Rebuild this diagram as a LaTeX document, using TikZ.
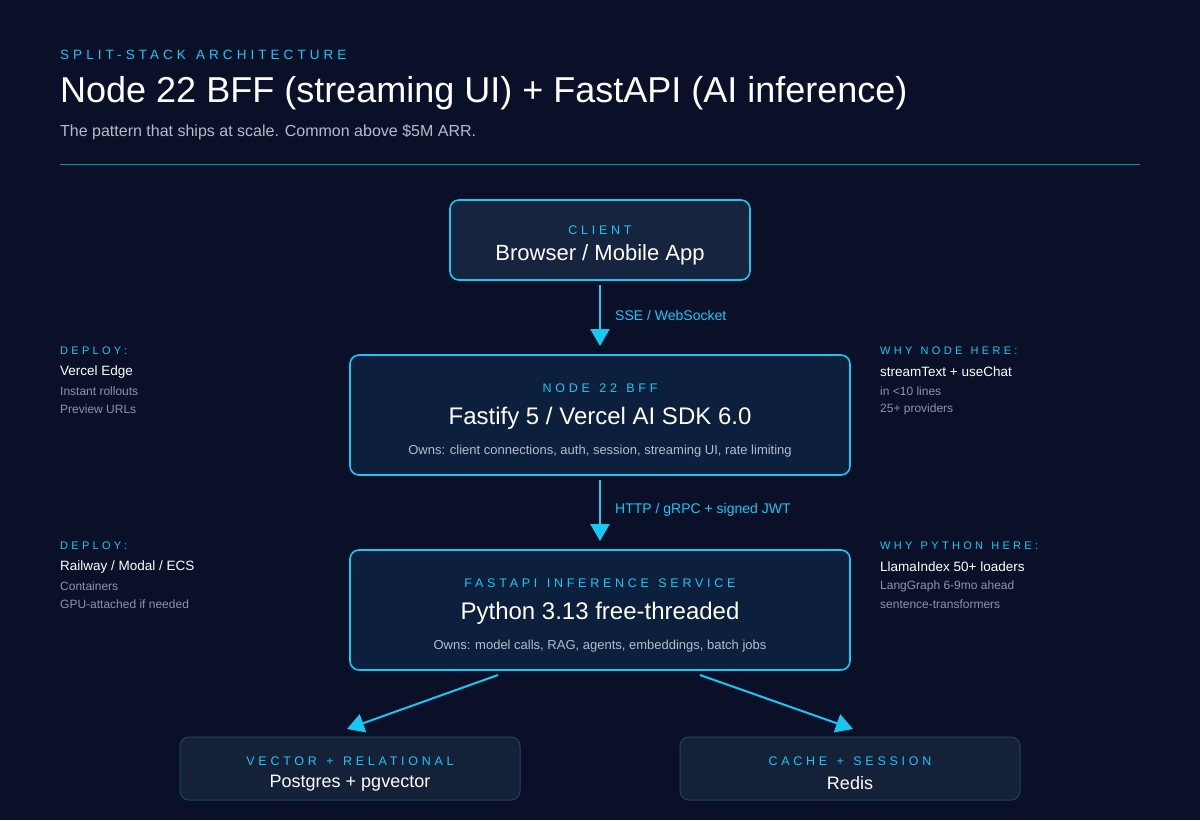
\documentclass[tikz,border=0pt]{standalone}
\usepackage{fontspec}
\setmainfont{Liberation Sans}
\newfontfamily\spacedfont[LetterSpace=30,WordSpace=1.3]{Liberation Sans}
\usetikzlibrary{positioning,arrows.meta}
\definecolor{bgnavy}{HTML}{0B1029}
\definecolor{accentcyan}{HTML}{16C8F2}
\definecolor{boxfill}{HTML}{0C1F3C}
\definecolor{clientfill}{HTML}{16243F}
\definecolor{storefill}{HTML}{152039}
\definecolor{storeline}{HTML}{1D4563}
\definecolor{subgray}{HTML}{B4BCCB}
\definecolor{dimgray}{HTML}{8C95A8}
\definecolor{rulecyan}{HTML}{1589B0}

\begin{document}
\begin{tikzpicture}[
        x=1pt, y=-1pt,
        tier/.style={rectangle, draw=accentcyan, line width=1.6pt, fill=boxfill, rounded corners=9pt},
        store/.style={rectangle, draw=storeline, line width=1pt, fill=storefill, rounded corners=9pt},
        tag/.style={text=accentcyan, font=\spacedfont\fontsize{12.5}{14}\selectfont},
        main/.style={text=white, font=\fontsize{24}{28}\selectfont},
        owns/.style={text=subgray, font=\fontsize{13}{15}\selectfont},
        sidetag/.style={anchor=west, inner sep=0pt, text=accentcyan, font=\spacedfont\fontsize{11}{12}\selectfont},
        sidemain/.style={anchor=west, inner sep=0pt, text=white, font=\fontsize{13.5}{16}\selectfont},
        sidesub/.style={anchor=west, inner sep=0pt, text=dimgray, font=\fontsize{12}{14}\selectfont},
        arrow/.style={-{Triangle[length=17pt,width=19pt]}, line width=2pt, accentcyan},
        lbl/.style={anchor=west, inner sep=0pt, text=accentcyan, font=\fontsize{14}{16}\selectfont}
    ]
        \fill[bgnavy] (0,0) rectangle (1200,820);
        \useasboundingbox (0,0) rectangle (1200,820);

        % Header
        \node[anchor=west, inner sep=0pt, text=accentcyan, font=\spacedfont\fontsize{13.5}{15}\selectfont] (kicker) at (60,55) {SPLIT-STACK ARCHITECTURE};
        \node[anchor=west, inner sep=0pt, text=white, font=\fontsize{36}{40}\selectfont] (title) at (60,93) {Node 22 BFF (streaming UI) + FastAPI (AI inference)};
        \node[anchor=west, inner sep=0pt, text=subgray, font=\fontsize{16}{18}\selectfont] (subtitle) at (60,132) {The pattern that ships at scale. Common above \$5M ARR.};
        \draw[rulecyan, line width=1pt] (60,164) -- (1140,164);

        % Client
        \draw[tier, fill=clientfill] (450,200) rectangle (750,280);
        \node[tag] (clienttag) at (600,230) {CLIENT};
        \node[main, font=\fontsize{22}{26}\selectfont] (client) at (600,255) {Browser / Mobile App};

        % BFF
        \draw[tier] (350,355) rectangle (850,475);
        \node[tag] (bfftag) at (600,388) {NODE 22 BFF};
        \node[main] (bff) at (600,418) {Fastify 5 / Vercel AI SDK 6.0};
        \node[owns] (bffowns) at (600,451) {Owns: client connections, auth, session, streaming UI, rate limiting};

        % FastAPI
        \draw[tier] (350,550) rectangle (850,670);
        \node[tag] (apitag) at (600,583) {FASTAPI INFERENCE SERVICE};
        \node[main] (api) at (600,613) {Python 3.13 free-threaded};
        \node[owns] (apiowns) at (600,646) {Owns: model calls, RAG, agents, embeddings, batch jobs};

        % Stores
        \draw[store] (180,737) rectangle (520,800);
        \node[tag] (pgtag) at (350,761) {VECTOR + RELATIONAL};
        \node[main, font=\fontsize{18}{21}\selectfont] (pg) at (350,783) {Postgres + pgvector};
        \draw[store] (680,737) rectangle (1020,800);
        \node[tag] (redistag) at (850,761) {CACHE + SESSION};
        \node[main, font=\fontsize{18}{21}\selectfont] (redis) at (850,783) {Redis};

        % Arrows
        \coordinate (c1) at (600,285); \coordinate (c2) at (600,346);
        \coordinate (b1) at (600,480); \coordinate (b2) at (600,541);
        \coordinate (f1) at (498,675); \coordinate (f2) at (347,729);
        \coordinate (f3) at (700,675); \coordinate (f4) at (853,729);
        \draw[arrow] (c1) -- (c2);
        \draw[arrow] (b1) -- (b2);
        \draw[arrow] (f1) -- (f2);
        \draw[arrow] (f3) -- (f4);
        \node[lbl] (sse) at (615,315) {SSE / WebSocket};
        \node[lbl] (http) at (615,510) {HTTP / gRPC + signed JWT};

        % Side notes
        \node[sidetag] (dep1) at (60,351) {DEPLOY:};
        \node[sidemain] (dep1a) at (60,372) {Vercel Edge};
        \node[sidesub] (dep1b) at (60,391) {Instant rollouts};
        \node[sidesub] (dep1c) at (60,409) {Preview URLs};
        \node[sidetag] (why1) at (880,351) {WHY NODE HERE:};
        \node[sidemain] (why1a) at (880,372) {streamText + useChat};
        \node[sidesub] (why1b) at (880,391) {in <10 lines};
        \node[sidesub] (why1c) at (880,409) {25+ providers};

        \node[sidetag] (dep2) at (60,546) {DEPLOY:};
        \node[sidemain] (dep2a) at (60,567) {Railway / Modal / ECS};
        \node[sidesub] (dep2b) at (60,586) {Containers};
        \node[sidesub] (dep2c) at (60,604) {GPU-attached if needed};
        \node[sidetag] (why2) at (880,546) {WHY PYTHON HERE:};
        \node[sidemain] (why2a) at (880,567) {LlamaIndex 50+ loaders};
        \node[sidesub] (why2b) at (880,586) {LangGraph 6-9mo ahead};
        \node[sidesub] (why2c) at (880,604) {sentence-transformers};
    \end{tikzpicture}
\end{document}
